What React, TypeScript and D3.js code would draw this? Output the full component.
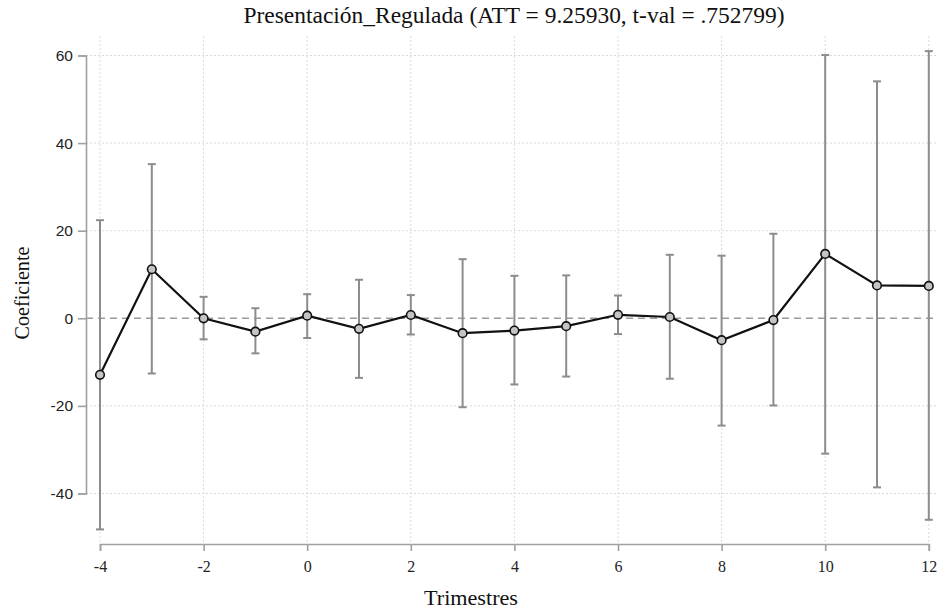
import React, { useEffect, useRef } from "react";
import * as d3 from "d3";

// Event-study estimates by quarter relative to treatment
const quarters = [-4, -3, -2, -1, 0, 1, 2, 3, 4, 5, 6, 7, 8, 9, 10, 11, 12];
const coef = [-12.9, 11.2, 0, -3.05, 0.6, -2.4, 0.75, -3.4, -2.8, -1.8, 0.8, 0.3, -5.0, -0.4, 14.7, 7.5, 7.4];
const ciUpper = [22.4, 35.2, 4.9, 2.3, 5.5, 8.8, 5.3, 13.5, 9.7, 9.8, 5.2, 14.5, 14.3, 19.3, 60.1, 54.1, 61.0];
const ciLower = [-48.2, -12.6, -4.8, -8.0, -4.5, -13.6, -3.7, -20.3, -15.1, -13.3, -3.6, -13.8, -24.5, -19.9, -30.9, -38.6, -46.0];

const xTicks = [-4, -2, 0, 2, 4, 6, 8, 10, 12];
const yTicks = [-40, -20, 0, 20, 40, 60];

const title = "Presentación_Regulada (ATT = 9.25930, t-val = .752799)";
const xTitle = "Trimestres";
const yTitle = "Coeficiente";

const W = 937;
const H = 612;

export default function App() {
  const ref = useRef<SVGSVGElement>(null);

  useEffect(() => {
    const svg = d3.select(ref.current);
    svg.selectAll("*").remove();

    const x = d3.scaleLinear().domain([-4, 12]).range([100, 928.8]);
    const y = d3.scaleLinear().domain([-40, 60]).range([493.5, 55.5]);

    const plotLeft = 86;
    const plotRight = W;
    const plotTop = 36;
    const plotBottom = 544;

    const serif = "'Liberation Serif', 'Times New Roman', serif";
    const sans = "'Liberation Sans', Arial, sans-serif";
    const fmt = (d: d3.NumberValue) => String(d);

    svg.append("rect").attr("width", W).attr("height", H).attr("fill", "#fff");

    // grid
    const grid = svg.append("g");
    grid
      .selectAll("line.vg")
      .data(xTicks)
      .join("line")
      .attr("x1", (d) => x(d))
      .attr("x2", (d) => x(d))
      .attr("y1", plotTop)
      .attr("y2", plotBottom)
      .attr("stroke", "#d9d9d9")
      .attr("stroke-width", 1)
      .attr("stroke-dasharray", "2,2");
    grid
      .selectAll("line.hg")
      .data(yTicks.filter((d) => d !== 0))
      .join("line")
      .attr("x1", plotLeft)
      .attr("x2", plotRight)
      .attr("y1", (d) => y(d))
      .attr("y2", (d) => y(d))
      .attr("stroke", "#d9d9d9")
      .attr("stroke-width", 1)
      .attr("stroke-dasharray", "2,2");

    // zero reference
    svg
      .append("line")
      .attr("x1", plotLeft)
      .attr("x2", plotRight)
      .attr("y1", y(0))
      .attr("y2", y(0))
      .attr("stroke", "#9a9a9a")
      .attr("stroke-width", 1.6)
      .attr("stroke-dasharray", "7,5");

    // axes
    const xAxis = svg
      .append("g")
      .attr("transform", `translate(0,${plotBottom})`)
      .call(d3.axisBottom(x).tickValues(xTicks).tickSize(7).tickSizeOuter(7).tickPadding(10).tickFormat(fmt));
    xAxis.selectAll("path, line").attr("stroke", "#a0a0a0").attr("stroke-width", 1.6);
    xAxis.selectAll("text").attr("font-family", serif).attr("font-size", 16).attr("fill", "#222");

    const yAxis = svg
      .append("g")
      .attr("transform", `translate(${plotLeft},0)`)
      .call(d3.axisLeft(y).tickValues(yTicks).tickSize(8).tickSizeOuter(8).tickPadding(5).tickFormat(fmt));
    yAxis.selectAll("path, line").attr("stroke", "#a0a0a0").attr("stroke-width", 1.6);
    yAxis.selectAll("text").attr("font-family", sans).attr("font-size", 15.5).attr("fill", "#222");

    // confidence intervals
    const bars = svg.append("g").attr("stroke", "#8c8c8c").attr("stroke-width", 2);
    quarters.forEach((q, i) => {
      const cx = x(q);
      bars.append("line").attr("x1", cx).attr("x2", cx).attr("y1", y(ciLower[i])).attr("y2", y(ciUpper[i]));
      bars.append("line").attr("x1", cx - 4).attr("x2", cx + 4).attr("y1", y(ciLower[i])).attr("y2", y(ciLower[i]));
      bars.append("line").attr("x1", cx - 4).attr("x2", cx + 4).attr("y1", y(ciUpper[i])).attr("y2", y(ciUpper[i]));
    });

    // estimate line
    const line = d3
      .line<number>()
      .x((_, i) => x(quarters[i]))
      .y((d) => y(d));
    svg
      .append("path")
      .datum(coef)
      .attr("d", line)
      .attr("fill", "none")
      .attr("stroke", "#111")
      .attr("stroke-width", 2.2);

    svg
      .append("g")
      .selectAll("circle")
      .data(coef)
      .join("circle")
      .attr("cx", (_, i) => x(quarters[i]))
      .attr("cy", (d) => y(d))
      .attr("r", 4.3)
      .attr("fill", "#c4c4c4")
      .attr("stroke", "#111")
      .attr("stroke-width", 1.6);

    // titles
    svg
      .append("text")
      .attr("x", 514)
      .attr("y", 23)
      .attr("text-anchor", "middle")
      .attr("font-family", serif)
      .attr("font-size", 24)
      .attr("textLength", 541)
      .attr("lengthAdjust", "spacingAndGlyphs")
      .attr("fill", "#111")
      .text(title);

    svg
      .append("text")
      .attr("x", 471)
      .attr("y", 605)
      .attr("text-anchor", "middle")
      .attr("font-family", serif)
      .attr("font-size", 22)
      .attr("textLength", 94)
      .attr("lengthAdjust", "spacingAndGlyphs")
      .attr("fill", "#111")
      .text(xTitle);

    svg
      .append("text")
      .attr("transform", `translate(29,${293}) rotate(-90)`)
      .attr("text-anchor", "middle")
      .attr("font-family", serif)
      .attr("font-size", 22)
      .attr("textLength", 93)
      .attr("lengthAdjust", "spacingAndGlyphs")
      .attr("fill", "#111")
      .text(yTitle);
  }, []);

  return (
    <svg
      ref={ref}
      width={W}
      height={H}
      style={{ position: "absolute", left: 0, top: 0, display: "block" }}
    />
  );
}
